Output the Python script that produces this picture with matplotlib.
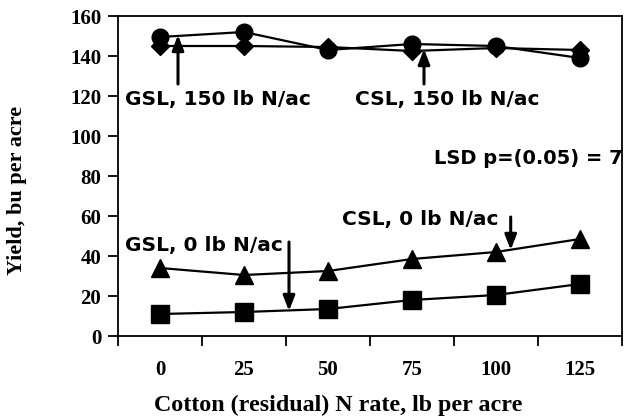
import matplotlib
matplotlib.use("Agg")
import matplotlib.pyplot as plt

categories = ["0", "25", "50", "75", "100", "125"]
csl_150 = [149.5, 152, 143, 146, 145, 139]   # circles
gsl_150 = [145, 145, 144.5, 142.5, 144, 143]  # diamonds
csl_0 = [34, 30.5, 32.5, 38.5, 42, 48.5]      # triangles
gsl_0 = [11, 12, 13.5, 18, 20.5, 26]          # squares

serif = "Liberation Serif"
sans = "DejaVu Sans"

fig = plt.figure(figsize=(6.24, 4.17), dpi=100)
ax = fig.add_axes([118/624, 1-336/417, (622-118)/624, (336-16)/417])

x = list(range(len(categories)))
lw = 1.6
ax.plot(x, csl_150, color="black", lw=lw, marker="o", ms=12, zorder=3)
ax.plot(x, gsl_150, color="black", lw=lw, marker="D", ms=9, zorder=3)
ax.plot(x, csl_0, color="black", lw=lw, marker="^", ms=13, zorder=3)
ax.plot(x, gsl_0, color="black", lw=lw, marker="s", ms=13, zorder=3)

ax.set_xlim(-0.5, 5.5)
ax.set_ylim(0, 160)
ax.set_yticks(range(0, 161, 20))
ax.set_xticks(x)
ax.set_xticklabels(categories)
ax.set_xticks([i + 0.5 for i in range(-1, 6)], minor=True)
ax.tick_params(axis="x", which="major", length=0, pad=17)
ax.tick_params(axis="x", which="minor", length=7, width=1.3, direction="out")
ax.tick_params(axis="y", length=7, width=1.3, direction="out", pad=5)
for lab in ax.get_xticklabels() + ax.get_yticklabels():
    lab.set_fontfamily(serif)
    lab.set_fontweight("bold")
    lab.set_fontsize(15)
for s in ax.spines.values():
    s.set_linewidth(1.3)

fig.text(17/624, 1-190/417, "Yield, bu per acre", rotation=90, ha="center", va="center",
         fontfamily=serif, fontweight="bold", fontsize=16)
fig.text(338/624, 1-411/417, "Cotton (residual) N rate, lb per acre", ha="center", va="baseline",
         fontfamily=serif, fontweight="bold", fontsize=17.3)

def px2data(px, py):
    return ((px - 160) / 84.0, (336 - py) / 2.0)

txt = dict(fontfamily=sans, fontweight="bold", fontsize=14.5, ha="center", va="center")
arrow = dict(arrowstyle="-|>,head_length=0.9,head_width=0.35", color="black", lw=2.2,
             shrinkA=0, shrinkB=0)

ax.text(*px2data(217.5, 99), "GSL, 150 lb N/ac", **txt)
ax.annotate("", xy=px2data(178, 35), xytext=px2data(178, 84), arrowprops=arrow)
ax.text(*px2data(447.5, 99), "CSL, 150 lb N/ac", **txt)
ax.annotate("", xy=px2data(424, 49), xytext=px2data(424, 84), arrowprops=arrow)
ax.text(*px2data(623, 159), "LSD p=(0.05) = 7", fontfamily=sans, fontweight="bold",
        fontsize=14, ha="right", va="center", clip_on=False)
ax.text(*px2data(204, 245), "GSL, 0 lb N/ac", **txt)
ax.annotate("", xy=px2data(289, 311), xytext=px2data(289, 242), arrowprops=arrow)
ax.text(*px2data(420, 220), "CSL, 0 lb N/ac", **txt)
ax.annotate("", xy=px2data(510.7, 250), xytext=px2data(510.7, 217), arrowprops=arrow)

fig.savefig("out.png", dpi=100)
